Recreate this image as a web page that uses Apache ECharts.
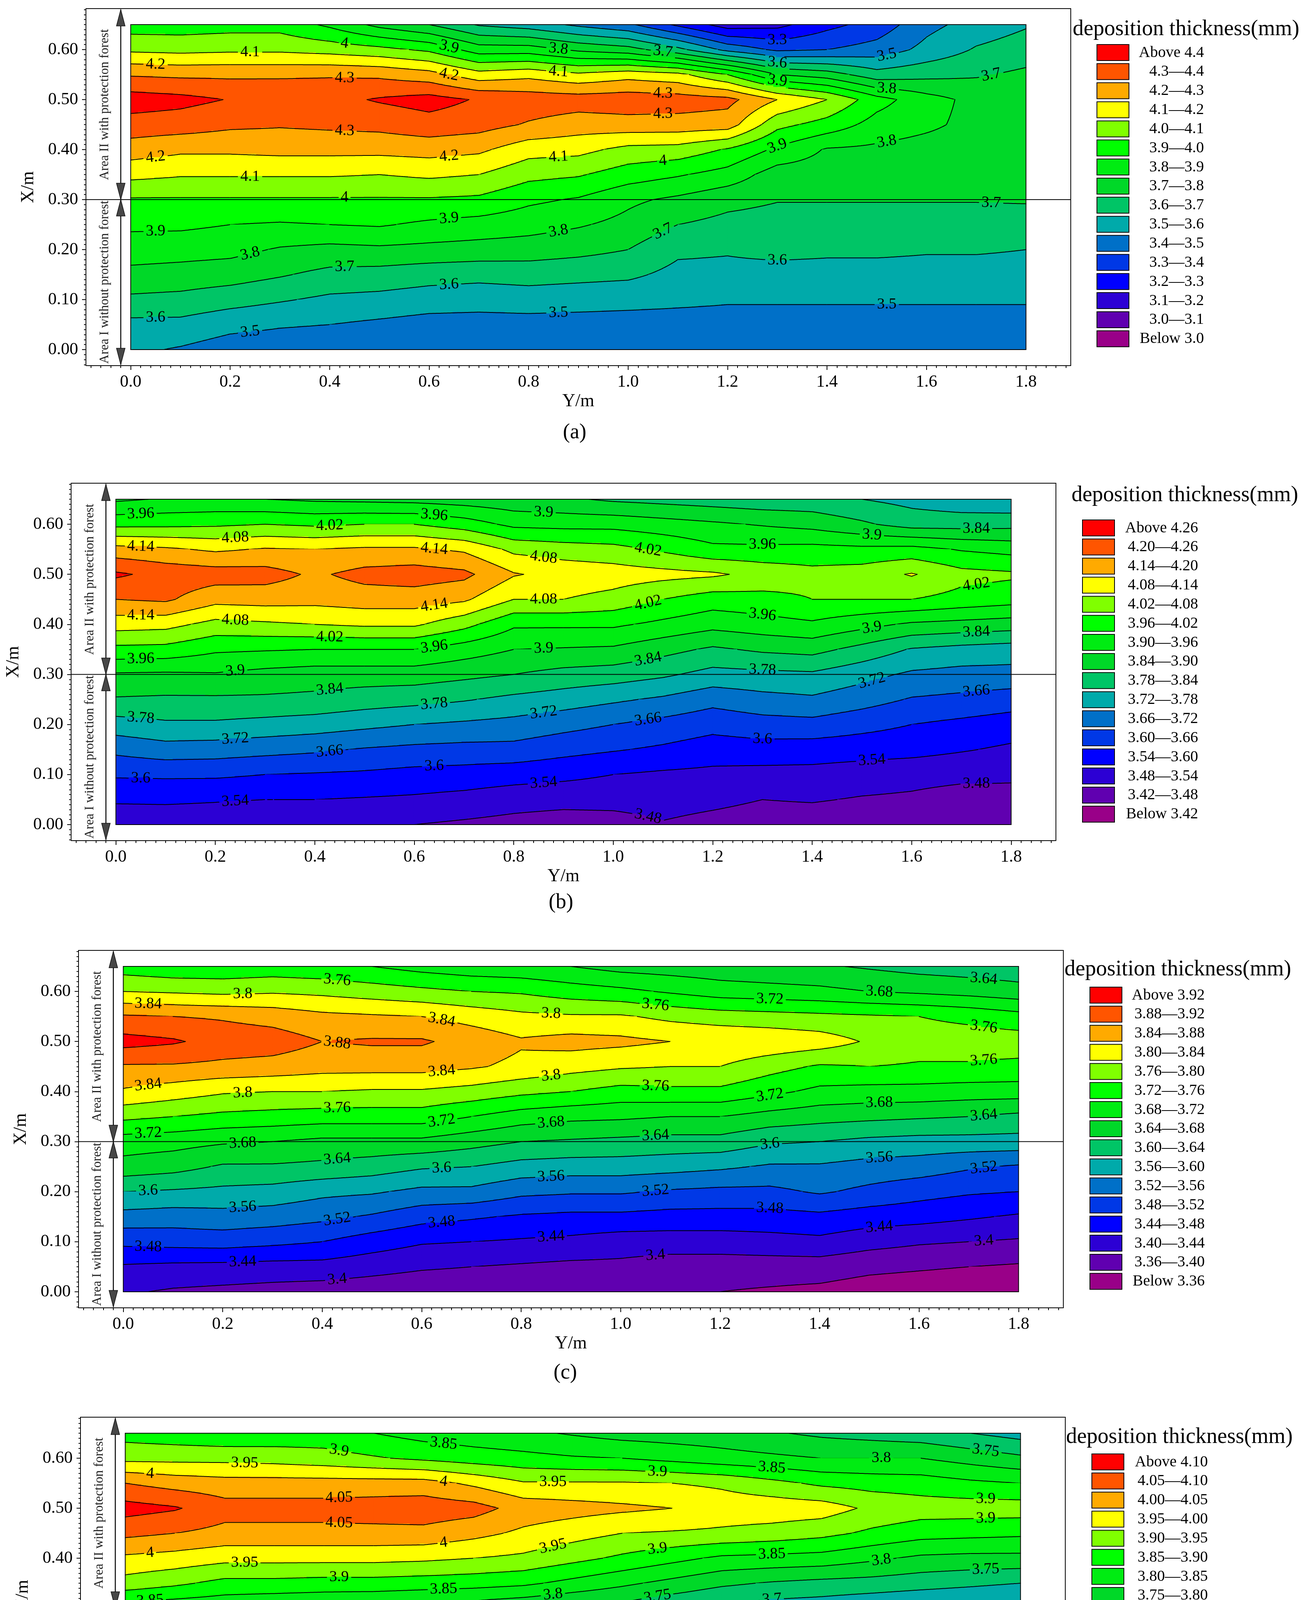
<!DOCTYPE html>
<html>
<head>
<meta charset="utf-8">
<title>deposition thickness</title>
<script src="https://cdn.jsdelivr.net/npm/echarts@6/dist/echarts.min.js"></script>
<style>
html,body{margin:0;padding:0;background:#ffffff;}
#chart{width:3356px;height:4756px;}
</style>
</head>
<body>
<div id="chart"></div>
<script>
// ---------------- data ----------------
// horizontal axis: Y/m (columns), vertical axis: X/m (rows, top row first)
const yCols = [0, 0.1, 0.2, 0.3, 0.4, 0.5, 0.6, 0.7, 0.8, 0.9, 1.0, 1.1, 1.2, 1.3, 1.4, 1.5, 1.6, 1.7, 1.8];
const xRows = [0.65, 0.60, 0.55, 0.50, 0.45, 0.40, 0.35, 0.30, 0.25, 0.20, 0.15, 0.10, 0.05, 0.00];

const thicknessA = [
  [3.95, 3.95, 3.96, 3.96, 3.88, 3.77, 3.70, 3.59, 3.55, 3.48, 3.42, 3.28, 3.15, 3.17, 3.27, 3.34, 3.47, 3.54, 3.59],
  [4.08, 4.07, 4.08, 4.08, 4.06, 4.03, 3.98, 3.85, 3.85, 3.78, 3.74, 3.63, 3.47, 3.38, 3.40, 3.44, 3.53, 3.61, 3.65],
  [4.29, 4.28, 4.28, 4.28, 4.29, 4.28, 4.24, 4.14, 4.17, 4.12, 4.16, 4.13, 4.00, 3.80, 3.75, 3.64, 3.67, 3.69, 3.72],
  [4.45, 4.43, 4.395, 4.40, 4.37, 4.41, 4.44, 4.39, 4.36, 4.35, 4.36, 4.35, 4.33, 4.20, 4.10, 3.94, 3.84, 3.77, 3.74],
  [4.36, 4.35, 4.32, 4.31, 4.32, 4.33, 4.36, 4.34, 4.29, 4.25, 4.26, 4.26, 4.25, 4.03, 3.96, 3.86, 3.82, 3.77, 3.75],
  [4.25, 4.22, 4.22, 4.23, 4.23, 4.23, 4.24, 4.22, 4.14, 4.13, 4.07, 4.06, 3.99, 3.88, 3.79, 3.78, 3.76, 3.75, 3.74],
  [4.13, 4.11, 4.11, 4.11, 4.11, 4.10, 4.12, 4.10, 4.03, 4.01, 3.95, 3.91, 3.86, 3.75, 3.75, 3.74, 3.73, 3.73, 3.72],
  [3.99, 3.99, 3.99, 3.99, 3.99, 3.99, 3.99, 3.98, 3.92, 3.89, 3.82, 3.78, 3.73, 3.705, 3.705, 3.705, 3.705, 3.705, 3.71],
  [3.92, 3.92, 3.90, 3.89, 3.90, 3.91, 3.88, 3.86, 3.84, 3.81, 3.77, 3.70, 3.67, 3.66, 3.66, 3.66, 3.66, 3.66, 3.65],
  [3.85, 3.84, 3.83, 3.79, 3.77, 3.78, 3.77, 3.76, 3.75, 3.73, 3.70, 3.62, 3.61, 3.63, 3.62, 3.62, 3.61, 3.61, 3.60],
  [3.77, 3.76, 3.745, 3.71, 3.67, 3.66, 3.64, 3.63, 3.64, 3.63, 3.62, 3.57, 3.57, 3.56, 3.56, 3.56, 3.56, 3.56, 3.56],
  [3.68, 3.67, 3.64, 3.61, 3.58, 3.57, 3.55, 3.54, 3.55, 3.54, 3.53, 3.52, 3.51, 3.51, 3.51, 3.51, 3.51, 3.51, 3.51],
  [3.57, 3.57, 3.53, 3.51, 3.50, 3.48, 3.46, 3.46, 3.46, 3.46, 3.46, 3.46, 3.46, 3.46, 3.46, 3.46, 3.46, 3.46, 3.46],
  [3.52, 3.49, 3.45, 3.44, 3.43, 3.43, 3.42, 3.42, 3.42, 3.42, 3.43, 3.43, 3.43, 3.43, 3.44, 3.43, 3.43, 3.43, 3.43]
];
const thicknessB = [
  [3.89, 3.905, 3.91, 3.90, 3.89, 3.885, 3.88, 3.87, 3.86, 3.85, 3.83, 3.82, 3.81, 3.80, 3.80, 3.78, 3.76, 3.74, 3.73],
  [4.003, 4.005, 4.01, 4.02, 4.01, 4.02, 4.02, 3.99, 3.945, 3.94, 3.94, 3.925, 3.91, 3.895, 3.88, 3.85, 3.815, 3.815, 3.82],
  [4.163, 4.15, 4.13, 4.145, 4.14, 4.15, 4.15, 4.13, 4.065, 4.05, 4.04, 4.01, 3.975, 3.975, 3.98, 3.975, 3.98, 3.955, 3.94],
  [4.27, 4.24, 4.23, 4.225, 4.19, 4.22, 4.23, 4.215, 4.145, 4.12, 4.11, 4.10, 4.09, 4.06, 4.04, 4.05, 4.085, 4.04, 4.03],
  [4.20, 4.21, 4.16, 4.165, 4.16, 4.17, 4.17, 4.15, 4.08, 4.08, 4.06, 4.02, 3.99, 4.00, 4.02, 4.02, 4.02, 4.00, 3.985],
  [4.106, 4.10, 4.06, 4.07, 4.08, 4.09, 4.09, 4.04, 3.97, 3.97, 3.97, 3.945, 3.92, 3.935, 3.95, 3.92, 3.89, 3.88, 3.87],
  [4.004, 4.0, 3.97, 3.965, 3.96, 3.96, 3.96, 3.93, 3.90, 3.895, 3.89, 3.86, 3.83, 3.85, 3.86, 3.82, 3.775, 3.76, 3.75],
  [3.893, 3.89, 3.895, 3.88, 3.87, 3.87, 3.87, 3.855, 3.84, 3.82, 3.81, 3.79, 3.76, 3.765, 3.77, 3.74, 3.71, 3.70, 3.70],
  [3.834, 3.83, 3.83, 3.83, 3.825, 3.81, 3.80, 3.785, 3.765, 3.75, 3.73, 3.71, 3.68, 3.70, 3.71, 3.685, 3.655, 3.645, 3.63],
  [3.754, 3.77, 3.77, 3.76, 3.75, 3.735, 3.72, 3.71, 3.70, 3.68, 3.66, 3.64, 3.62, 3.635, 3.64, 3.62, 3.60, 3.585, 3.57],
  [3.675, 3.695, 3.69, 3.68, 3.67, 3.655, 3.645, 3.64, 3.64, 3.62, 3.605, 3.59, 3.57, 3.575, 3.57, 3.565, 3.56, 3.545, 3.53],
  [3.608, 3.61, 3.61, 3.60, 3.595, 3.59, 3.58, 3.575, 3.565, 3.555, 3.54, 3.53, 3.525, 3.52, 3.52, 3.51, 3.50, 3.495, 3.49],
  [3.548, 3.55, 3.545, 3.54, 3.54, 3.535, 3.53, 3.52, 3.505, 3.50, 3.50, 3.505, 3.495, 3.48, 3.485, 3.475, 3.47, 3.455, 3.46],
  [3.50, 3.50, 3.50, 3.49, 3.49, 3.485, 3.48, 3.47, 3.46, 3.45, 3.455, 3.475, 3.46, 3.45, 3.445, 3.44, 3.44, 3.435, 3.43]
];
const thicknessC = [
  [3.74, 3.73, 3.73, 3.735, 3.73, 3.72, 3.705, 3.695, 3.69, 3.68, 3.665, 3.66, 3.655, 3.65, 3.645, 3.635, 3.625, 3.62, 3.615],
  [3.80, 3.795, 3.79, 3.795, 3.79, 3.78, 3.77, 3.76, 3.755, 3.74, 3.73, 3.715, 3.70, 3.695, 3.69, 3.68, 3.673, 3.665, 3.655],
  [3.885, 3.88, 3.875, 3.865, 3.85, 3.845, 3.84, 3.825, 3.81, 3.805, 3.805, 3.79, 3.78, 3.775, 3.77, 3.765, 3.76, 3.75, 3.735],
  [3.935, 3.925, 3.905, 3.90, 3.88, 3.885, 3.885, 3.865, 3.845, 3.855, 3.85, 3.84, 3.835, 3.83, 3.82, 3.795, 3.78, 3.78, 3.78],
  [3.875, 3.875, 3.87, 3.865, 3.855, 3.855, 3.855, 3.845, 3.83, 3.815, 3.805, 3.80, 3.80, 3.775, 3.755, 3.76, 3.755, 3.755, 3.75],
  [3.835, 3.82, 3.805, 3.80, 3.80, 3.795, 3.795, 3.785, 3.77, 3.76, 3.745, 3.75, 3.75, 3.73, 3.71, 3.705, 3.705, 3.70, 3.70],
  [3.77, 3.76, 3.75, 3.745, 3.74, 3.74, 3.74, 3.72, 3.70, 3.69, 3.687, 3.68, 3.68, 3.665, 3.655, 3.65, 3.645, 3.64, 3.63],
  [3.70, 3.695, 3.685, 3.68, 3.67, 3.67, 3.67, 3.655, 3.64, 3.635, 3.63, 3.625, 3.625, 3.605, 3.60, 3.59, 3.585, 3.585, 3.585],
  [3.665, 3.655, 3.635, 3.635, 3.63, 3.62, 3.605, 3.60, 3.585, 3.58, 3.58, 3.575, 3.567, 3.555, 3.555, 3.545, 3.54, 3.525, 3.515],
  [3.60, 3.595, 3.59, 3.585, 3.57, 3.565, 3.55, 3.55, 3.53, 3.525, 3.525, 3.515, 3.51, 3.51, 3.525, 3.51, 3.495, 3.485, 3.48],
  [3.545, 3.54, 3.545, 3.54, 3.53, 3.515, 3.495, 3.485, 3.475, 3.47, 3.47, 3.465, 3.465, 3.465, 3.47, 3.46, 3.455, 3.445, 3.435],
  [3.49, 3.495, 3.498, 3.49, 3.48, 3.46, 3.444, 3.44, 3.435, 3.43, 3.42, 3.42, 3.42, 3.425, 3.43, 3.415, 3.405, 3.40, 3.395],
  [3.435, 3.43, 3.428, 3.425, 3.425, 3.415, 3.405, 3.40, 3.395, 3.39, 3.39, 3.38, 3.38, 3.38, 3.38, 3.37, 3.365, 3.36, 3.355],
  [3.405, 3.395, 3.39, 3.385, 3.38, 3.375, 3.37, 3.37, 3.37, 3.365, 3.37, 3.365, 3.36, 3.355, 3.35, 3.34, 3.335, 3.33, 3.33]
];
const thicknessD = [
  [3.88, 3.87, 3.86, 3.865, 3.87, 3.85, 3.83, 3.82, 3.81, 3.795, 3.78, 3.775, 3.77, 3.755, 3.74, 3.73, 3.72, 3.70, 3.68],
  [3.935, 3.935, 3.935, 3.93, 3.92, 3.905, 3.89, 3.875, 3.865, 3.855, 3.85, 3.835, 3.82, 3.81, 3.80, 3.80, 3.80, 3.78, 3.76],
  [4.05, 4.03, 4.02, 4.02, 4.02, 4.02, 4.02, 3.99, 3.955, 3.955, 3.955, 3.95, 3.94, 3.915, 3.89, 3.88, 3.875, 3.86, 3.85],
  [4.12, 4.105, 4.07, 4.07, 4.07, 4.075, 4.08, 4.07, 4.03, 4.02, 4.01, 4.0, 3.98, 3.98, 3.975, 3.94, 3.925, 3.925, 3.925],
  [4.063, 4.05, 4.035, 4.035, 4.035, 4.035, 4.035, 4.015, 3.99, 3.97, 3.95, 3.945, 3.94, 3.93, 3.915, 3.89, 3.87, 3.865, 3.86],
  [3.99, 3.98, 3.965, 3.965, 3.965, 3.965, 3.96, 3.95, 3.94, 3.915, 3.89, 3.865, 3.84, 3.835, 3.83, 3.81, 3.79, 3.785, 3.785],
  [3.93, 3.91, 3.885, 3.885, 3.88, 3.88, 3.875, 3.87, 3.86, 3.835, 3.81, 3.785, 3.76, 3.745, 3.735, 3.73, 3.72, 3.71, 3.70],
  [3.825, 3.815, 3.81, 3.80, 3.795, 3.79, 3.78, 3.77, 3.755, 3.74, 3.73, 3.705, 3.685, 3.675, 3.67, 3.655, 3.645, 3.64, 3.63],
  [3.755, 3.745, 3.75, 3.74, 3.73, 3.72, 3.70, 3.695, 3.69, 3.685, 3.675, 3.65, 3.625, 3.62, 3.615, 3.605, 3.60, 3.585, 3.57],
  [3.68, 3.685, 3.695, 3.67, 3.64, 3.64, 3.635, 3.635, 3.635, 3.62, 3.603, 3.585, 3.573, 3.56, 3.555, 3.55, 3.545, 3.535, 3.52],
  [3.597, 3.60, 3.615, 3.60, 3.58, 3.58, 3.575, 3.57, 3.56, 3.55, 3.54, 3.53, 3.52, 3.52, 3.52, 3.51, 3.50, 3.495, 3.485],
  [3.53, 3.535, 3.535, 3.535, 3.53, 3.515, 3.505, 3.50, 3.495, 3.49, 3.48, 3.48, 3.475, 3.47, 3.47, 3.46, 3.45, 3.44, 3.435],
  [3.485, 3.48, 3.48, 3.48, 3.475, 3.47, 3.465, 3.46, 3.45, 3.44, 3.43, 3.43, 3.43, 3.425, 3.42, 3.41, 3.405, 3.40, 3.395],
  [3.46, 3.455, 3.447, 3.44, 3.435, 3.43, 3.425, 3.42, 3.415, 3.41, 3.41, 3.405, 3.405, 3.405, 3.39, 3.38, 3.37, 3.37, 3.375]
];

// contour levels (ascending)
const levelsA = [3.0, 3.1, 3.2, 3.3, 3.4, 3.5, 3.6, 3.7, 3.8, 3.9, 4.0, 4.1, 4.2, 4.3, 4.4];
const levelsB = [3.42, 3.48, 3.54, 3.60, 3.66, 3.72, 3.78, 3.84, 3.90, 3.96, 4.02, 4.08, 4.14, 4.20, 4.26];
const levelsC = [3.36, 3.40, 3.44, 3.48, 3.52, 3.56, 3.60, 3.64, 3.68, 3.72, 3.76, 3.80, 3.84, 3.88, 3.92];
const levelsD = [3.40, 3.45, 3.50, 3.55, 3.60, 3.65, 3.70, 3.75, 3.80, 3.85, 3.90, 3.95, 4.00, 4.05, 4.10];

// legend labels (top to bottom)
const legendA = ['Above 4.4', '4.3\u20144.4', '4.2\u20144.3', '4.1\u20144.2', '4.0\u20144.1', '3.9\u20144.0', '3.8\u20143.9', '3.7\u20143.8', '3.6\u20143.7', '3.5\u20143.6', '3.4\u20143.5', '3.3\u20143.4', '3.2\u20143.3', '3.1\u20143.2', '3.0\u20143.1', 'Below 3.0'];
const legendB = ['Above 4.26', '4.20\u20144.26', '4.14\u20144.20', '4.08\u20144.14', '4.02\u20144.08', '3.96\u20144.02', '3.90\u20143.96', '3.84\u20143.90', '3.78\u20143.84', '3.72\u20143.78', '3.66\u20143.72', '3.60\u20143.66', '3.54\u20143.60', '3.48\u20143.54', '3.42\u20143.48', 'Below 3.42'];
const legendC = ['Above 3.92', '3.88\u20143.92', '3.84\u20143.88', '3.80\u20143.84', '3.76\u20143.80', '3.72\u20143.76', '3.68\u20143.72', '3.64\u20143.68', '3.60\u20143.64', '3.56\u20143.60', '3.52\u20143.56', '3.48\u20143.52', '3.44\u20143.48', '3.40\u20143.44', '3.36\u20143.40', 'Below 3.36'];
const legendD = ['Above 4.10', '4.05\u20144.10', '4.00\u20144.05', '3.95\u20144.00', '3.90\u20143.95', '3.85\u20143.90', '3.80\u20143.85', '3.75\u20143.80', '3.70\u20143.75', '3.65\u20143.70', '3.60\u20143.65', '3.55\u20143.60', '3.50\u20143.55', '3.45\u20143.50', '3.40\u20143.45', 'Below 3.40'];

const xTickLabels = [0, 0.2, 0.4, 0.6, 0.8, 1.0, 1.2, 1.4, 1.6, 1.8];
const yTickLabels = [0, 0.1, 0.2, 0.3, 0.4, 0.5, 0.6];
const captions = ['(a)', '(b)', '(c)', '(d)'];
const legendTitle = 'deposition thickness(mm)';
const areaNames = ['Area II with protection forest', 'Area I without protection forest'];

// band colours, lowest band first
const bandColors = ['#990088', '#6000B0', '#2C00D4', '#0000FF', '#0038E6', '#0070C8', '#00AAAA', '#00C566',
                    '#00D828', '#00EC12', '#00FF00', '#80FF00', '#FFFF00', '#FFAA00', '#FF5500', '#FF0000'];

// ---------------- layout / style ----------------
const FONT = '"Liberation Serif", "Times New Roman", serif';
const axisYMin = -0.09, axisYMax = 1.89, axisXMin = -0.032, axisXMax = 0.682;
const areaBoundary = 0.30;
const arrowPos = -0.02, areaTextPos = -0.052;
const xMinorTicks = []; for (let k = -4; k <= 94; k++) xMinorTicks.push(+(k * 0.02).toFixed(2));
const yMinorTicks = []; for (let k = -3; k <= 68; k++) yMinorTicks.push(+(k * 0.01).toFixed(2));
const labelCols = [0.05, 0.24, 0.43, 0.64, 0.86, 1.07, 1.3, 1.52, 1.73];

const layouts = [
  {left: 220, top: 22,   width: 2521, height: 914, boxX: 2808, boxTop: 114,  titleX: 2746, titleY: 75,   labelRight: 3082, capX: 1471, capY: 1108},
  {left: 182, top: 1237, width: 2521, height: 915, boxX: 2771, boxTop: 1331, titleX: 2743, titleY: 1268, labelRight: 3067, capX: 1436, capY: 2311},
  {left: 201, top: 2433, width: 2521, height: 915, boxX: 2790, boxTop: 2527, titleX: 2725, titleY: 2482, labelRight: 3084, capX: 1447, capY: 3515},
  {left: 206, top: 3628, width: 2521, height: 914, boxX: 2795, boxTop: 3722, titleX: 2729, titleY: 3679, labelRight: 3092, capX: 1469, capY: 4702}
];

const grids = [thicknessA, thicknessB, thicknessC, thicknessD];
const levelSets = [levelsA, levelsB, levelsC, levelsD];
const legendSets = [legendA, legendB, legendC, legendD];

function makeField(g) {
  const nC = yCols.length, nR = xRows.length;
  const ys = yCols[1] - yCols[0], xs = xRows[0] - xRows[1];
  return function (Y, X) {
    let fj = (Y - yCols[0]) / ys, fi = (xRows[0] - X) / xs;
    fj = Math.max(0, Math.min(nC - 1, fj));
    fi = Math.max(0, Math.min(nR - 1, fi));
    const j = Math.min(Math.floor(fj), nC - 2), i = Math.min(Math.floor(fi), nR - 2);
    const s = fj - j, t = fi - i;
    return g[i][j] * (1 - s) * (1 - t) + g[i][j + 1] * s * (1 - t) + g[i + 1][j] * (1 - s) * t + g[i + 1][j + 1] * s * t;
  };
}
const fmtLevel = v => String(parseFloat(v.toFixed(2)));
function textWidth(s, size) {
  let w = 0;
  for (const ch of s) w += (ch === '.') ? 0.25 : 0.5;
  return w * size;
}

// automatic contour label placement along a few sample columns
function makeLabels(P) {
  const out = [];
  const pxY = 1274, pxX = 1280, step = 0.002;
  P.levels.forEach((lv, k) => {
    labelCols.forEach((cy, ci) => {
      if ((ci + k) % 3 !== 0) return;
      let prev = P.f(cy, 0.014) - lv;
      for (let x = 0.014 + step; x <= 0.636; x += step) {
        const cur = P.f(cy, x) - lv;
        if ((prev < 0) !== (cur < 0)) {
          const xc = x - step * cur / (cur - prev);
          const clash = out.some(o => Math.abs(o.y - cy) * pxY < 125 && Math.abs(o.x - xc) * pxX < 46);
          if (!clash) out.push({y: cy, x: xc, level: lv, text: fmtLevel(lv)});
        }
        prev = cur;
      }
    });
  });
  return out;
}

function labelGeometry(P, api) {
  if (P.geo) return P.geo;
  const o = api.coord([0, 0]), ey = api.coord([1, 0]), ex = api.coord([0, 1]);
  const sx = ey[0] - o[0], sy = ex[1] - o[1];
  P.geo = P.labels.map(l => {
    const p = api.coord([l.y, l.x]);
    const h = 0.004;
    const dvdY = (P.f(l.y + h, l.x) - P.f(l.y - h, l.x)) / (2 * h);
    const dvdX = (P.f(l.y, l.x + h) - P.f(l.y, l.x - h)) / (2 * h);
    const gx = dvdY / sx, gy = dvdX / sy;
    const tx = -gy, ty = gx;
    let ang = Math.atan2(-ty, tx);
    if (ang > Math.PI / 2) ang -= Math.PI;
    if (ang <= -Math.PI / 2) ang += Math.PI;
    ang = Math.max(-1.3, Math.min(1.3, ang));
    return {x: p[0], y: p[1], ang: ang, w: textWidth(l.text, 40) + 14, h: 34, text: l.text};
  });
  return P.geo;
}

function cellRenderer(P) {
  const NU = 40, NV = 16, L = P.levels, nL = L.length;
  return function (params, api) {
    const i = api.value(4), j = api.value(5);
    const g = P.grid;
    const a00 = g[i][j], a10 = g[i][j + 1], a01 = g[i + 1][j], a11 = g[i + 1][j + 1];
    const p0 = api.coord([api.value(0), api.value(1)]);
    const p1 = api.coord([api.value(2), api.value(3)]);
    const x0 = p0[0], y0 = p0[1];
    const dx = (p1[0] - x0) / NU, dy = (p1[1] - y0) / NV;
    const W = NU + 1;
    const nd = new Float64Array(W * (NV + 1));
    for (let b = 0; b <= NV; b++) {
      const t = b / NV;
      for (let a = 0; a <= NU; a++) {
        const s = a / NU;
        nd[b * W + a] = a00 * (1 - s) * (1 - t) + a10 * s * (1 - t) + a01 * (1 - s) * t + a11 * s * t;
      }
    }
    const ch = [];
    const band = v => { let n = 0; while (n < nL && v >= L[n]) n++; return n; };
    for (let b = 0; b < NV; b++) {
      let rs = 0, rb = -1;
      for (let a = 0; a <= NU; a++) {
        let cb = -1;
        if (a < NU) cb = band((nd[b * W + a] + nd[b * W + a + 1] + nd[(b + 1) * W + a] + nd[(b + 1) * W + a + 1]) / 4);
        if (cb !== rb) {
          if (rb >= 0) ch.push({type: 'rect', shape: {x: x0 + rs * dx - 0.6, y: y0 + b * dy - 0.6, width: (a - rs) * dx + 1.2, height: dy + 1.2}, style: {fill: bandColors[rb]}});
          rs = a; rb = cb;
        }
      }
    }
    const geo = labelGeometry(P, api);
    const bx0 = Math.min(x0, p1[0]) - 90, bx1 = Math.max(x0, p1[0]) + 90;
    const by0 = Math.min(y0, p1[1]) - 90, by1 = Math.max(y0, p1[1]) + 90;
    const near = geo.filter(q => q.x > bx0 && q.x < bx1 && q.y > by0 && q.y < by1);
    const hidden = (mx, my) => near.some(q => {
      const ddx = mx - q.x, ddy = my - q.y;
      const c = Math.cos(q.ang), s = Math.sin(q.ang);
      const u = ddx * c - ddy * s, v = ddx * s + ddy * c;
      return Math.abs(u) < q.w / 2 && Math.abs(v) < q.h / 2;
    });
    const paths = new Array(nL).fill('');
    for (let b = 0; b < NV; b++) {
      for (let a = 0; a < NU; a++) {
        const tl = nd[b * W + a], tr = nd[b * W + a + 1], bl = nd[(b + 1) * W + a], br = nd[(b + 1) * W + a + 1];
        const mn = Math.min(tl, tr, bl, br), mx = Math.max(tl, tr, bl, br);
        const xa = x0 + a * dx, yb = y0 + b * dy;
        for (let k = 0; k < nL; k++) {
          const lv = L[k];
          if (!(mx >= lv && mn < lv)) continue;
          const c = (tl >= lv ? 8 : 0) | (tr >= lv ? 4 : 0) | (br >= lv ? 2 : 0) | (bl >= lv ? 1 : 0);
          const Tp = () => [xa + dx * (lv - tl) / (tr - tl), yb];
          const Rp = () => [xa + dx, yb + dy * (lv - tr) / (br - tr)];
          const Bp = () => [xa + dx * (lv - bl) / (br - bl), yb + dy];
          const Lp = () => [xa, yb + dy * (lv - tl) / (bl - tl)];
          let segs = null;
          switch (c) {
            case 1: case 14: segs = [[Lp(), Bp()]]; break;
            case 2: case 13: segs = [[Bp(), Rp()]]; break;
            case 3: case 12: segs = [[Lp(), Rp()]]; break;
            case 4: case 11: segs = [[Tp(), Rp()]]; break;
            case 6: case 9: segs = [[Tp(), Bp()]]; break;
            case 7: case 8: segs = [[Tp(), Lp()]]; break;
            case 5: { const ctr = (tl + tr + bl + br) / 4; segs = ctr >= lv ? [[Tp(), Lp()], [Bp(), Rp()]] : [[Tp(), Rp()], [Lp(), Bp()]]; break; }
            case 10: { const ctr = (tl + tr + bl + br) / 4; segs = ctr >= lv ? [[Tp(), Rp()], [Lp(), Bp()]] : [[Tp(), Lp()], [Bp(), Rp()]]; break; }
          }
          if (!segs) continue;
          for (const sg of segs) {
            const m0 = (sg[0][0] + sg[1][0]) / 2, m1 = (sg[0][1] + sg[1][1]) / 2;
            if (near.length && hidden(m0, m1)) continue;
            paths[k] += 'M' + sg[0][0].toFixed(1) + ' ' + sg[0][1].toFixed(1) + 'L' + sg[1][0].toFixed(1) + ' ' + sg[1][1].toFixed(1);
          }
        }
      }
    }
    for (let k = 0; k < nL; k++) {
      if (paths[k]) ch.push({type: 'path', shape: {pathData: paths[k]}, style: {fill: 'none', stroke: '#000', lineWidth: 2, lineCap: 'round', lineJoin: 'round'}});
    }
    return {type: 'group', children: ch};
  };
}

function labelRenderer(P) {
  return function (params, api) {
    const q = labelGeometry(P, api)[params.dataIndex];
    return {type: 'text', x: q.x, y: q.y, rotation: q.ang, z2: 50,
      style: {text: q.text, font: '40px ' + FONT, fill: '#000', align: 'center', verticalAlign: 'middle', textAlign: 'center', textVerticalAlign: 'middle'}};
  };
}

function pushArrow(ch, p, q) {
  const len = 42, hw = 11;
  ch.push({type: 'line', shape: {x1: p[0], y1: p[1], x2: q[0], y2: q[1]}, style: {stroke: '#000', lineWidth: 2.5}});
  [[p, q], [q, p]].forEach(([tip, from]) => {
    const ddx = tip[0] - from[0], ddy = tip[1] - from[1];
    const d = Math.hypot(ddx, ddy) || 1;
    const ux = ddx / d, uy = ddy / d;
    const bx = tip[0] - ux * len, by = tip[1] - uy * len;
    ch.push({type: 'polygon', shape: {points: [[tip[0], tip[1]], [bx - uy * hw, by + ux * hw], [bx + uy * hw, by - ux * hw]]},
      style: {fill: '#474747', stroke: '#111', lineWidth: 1.5}});
  });
}

function annotRenderer(P) {
  return function (params, api) {
    const c = (y, x) => api.coord([y, x]);
    const ch = [];
    const dTL = c(yCols[0], xRows[0]), dBR = c(yCols[yCols.length - 1], xRows[xRows.length - 1]);
    ch.push({type: 'rect', shape: {x: dTL[0], y: dTL[1], width: dBR[0] - dTL[0], height: dBR[1] - dTL[1]}, style: {fill: 'none', stroke: '#000', lineWidth: 2}});
    const b0 = c(axisYMin, areaBoundary), b1 = c(axisYMax, areaBoundary);
    ch.push({type: 'line', shape: {x1: b0[0], y1: b0[1], x2: b1[0], y2: b1[1]}, style: {stroke: '#000', lineWidth: 2}});
    const topTip = axisXMax - 0.002, botTip = axisXMin + 0.002;
    pushArrow(ch, c(arrowPos, areaBoundary), c(arrowPos, topTip));
    pushArrow(ch, c(arrowPos, areaBoundary), c(arrowPos, botTip));
    const t1 = c(areaTextPos, (areaBoundary + topTip) / 2), t2 = c(areaTextPos, (areaBoundary + botTip) / 2);
    [[t1, areaNames[0]], [t2, areaNames[1]]].forEach(([pt, txt]) => {
      ch.push({type: 'text', x: pt[0], y: pt[1], rotation: Math.PI / 2,
        style: {text: txt, font: '33px ' + FONT, fill: '#222', align: 'center', verticalAlign: 'middle', textAlign: 'center', textVerticalAlign: 'middle'}});
    });
    return {type: 'group', children: ch};
  };
}

// ---------------- option ----------------
const option = {
  animation: false,
  backgroundColor: '#ffffff',
  textStyle: {fontFamily: FONT},
  grid: [], xAxis: [], yAxis: [], series: [], graphic: []
};

const panels = grids.map((g, k) => {
  const P = {grid: g, levels: levelSets[k], legend: legendSets[k], layout: layouts[k], f: makeField(g)};
  P.labels = makeLabels(P);
  return P;
});

panels.forEach((P, k) => {
  const Lo = P.layout;
  option.grid.push({left: Lo.left, top: Lo.top, width: Lo.width, height: Lo.height, show: true, borderColor: '#000', borderWidth: 2, backgroundColor: 'transparent'});
  const tickStyle = {color: '#000', width: 2};
  option.xAxis.push({
    gridIndex: k, type: 'value', min: axisYMin, max: axisYMax, position: 'bottom',
    name: 'Y/m', nameLocation: 'middle', nameGap: 69, nameTextStyle: {fontFamily: FONT, fontSize: 46, color: '#000'},
    axisLine: {show: true, onZero: false, lineStyle: {color: '#000', width: 2}},
    axisTick: {show: true, customValues: xTickLabels, length: 11, lineStyle: tickStyle},
    axisLabel: {show: true, customValues: xTickLabels, formatter: v => (+v).toFixed(1), fontFamily: FONT, fontSize: 44, color: '#000', margin: 20},
    splitLine: {show: false}
  });
  option.xAxis.push({
    gridIndex: k, type: 'value', min: axisYMin, max: axisYMax, position: 'bottom', offset: 0,
    axisLine: {show: false, onZero: false},
    axisTick: {show: true, customValues: xMinorTicks, length: 6, lineStyle: tickStyle},
    axisLabel: {show: false}, splitLine: {show: false}
  });
  option.yAxis.push({
    gridIndex: k, type: 'value', min: axisXMin, max: axisXMax, position: 'left',
    name: 'X/m', nameLocation: 'middle', nameGap: 124, nameTextStyle: {fontFamily: FONT, fontSize: 46, color: '#000'},
    axisLine: {show: true, onZero: false, lineStyle: {color: '#000', width: 2}},
    axisTick: {show: true, customValues: yTickLabels, length: 10, lineStyle: tickStyle},
    axisLabel: {show: true, customValues: yTickLabels, formatter: v => (+v).toFixed(2), fontFamily: FONT, fontSize: 44, color: '#000', margin: 20},
    splitLine: {show: false}
  });
  option.yAxis.push({
    gridIndex: k, type: 'value', min: axisXMin, max: axisXMax, position: 'left', offset: 0,
    axisLine: {show: false, onZero: false},
    axisTick: {show: true, customValues: yMinorTicks, length: 5, lineStyle: tickStyle},
    axisLabel: {show: false}, splitLine: {show: false}
  });

  const cells = [];
  for (let i = 0; i < xRows.length - 1; i++)
    for (let j = 0; j < yCols.length - 1; j++)
      cells.push([yCols[j], xRows[i], yCols[j + 1], xRows[i + 1], i, j]);

  option.series.push({
    type: 'custom', name: 'thickness ' + captions[k], xAxisIndex: 2 * k, yAxisIndex: 2 * k,
    coordinateSystem: 'cartesian2d', silent: true, progressive: 0, z: 2,
    encode: {x: [0, 2], y: [1, 3]}, renderItem: cellRenderer(P), data: cells
  });
  option.series.push({
    type: 'custom', name: 'frame ' + captions[k], xAxisIndex: 2 * k, yAxisIndex: 2 * k,
    coordinateSystem: 'cartesian2d', silent: true, z: 4, clip: false,
    encode: {x: 0, y: 1}, renderItem: annotRenderer(P), data: [[arrowPos, areaBoundary]]
  });
  option.series.push({
    type: 'custom', name: 'labels ' + captions[k], xAxisIndex: 2 * k, yAxisIndex: 2 * k,
    coordinateSystem: 'cartesian2d', silent: true, z: 5,
    encode: {x: 0, y: 1}, renderItem: labelRenderer(P), data: P.labels.map(l => [l.y, l.x, l.level])
  });

  // legend
  option.graphic.push({type: 'text', x: Lo.titleX, y: Lo.titleY, silent: true,
    style: {text: legendTitle, font: '56px ' + FONT, fill: '#000', align: 'left', verticalAlign: 'middle', textAlign: 'left', textVerticalAlign: 'middle'}});
  P.legend.forEach((lab, n) => {
    const yy = Lo.boxTop + n * 48.85;
    option.graphic.push({type: 'rect', silent: true, shape: {x: Lo.boxX, y: yy, width: 82, height: 41},
      style: {fill: bandColors[bandColors.length - 1 - n], stroke: '#000', lineWidth: 2}});
    option.graphic.push({type: 'text', silent: true, x: Lo.labelRight, y: yy + 21,
      style: {text: lab, font: '40px ' + FONT, fill: '#000', align: 'right', verticalAlign: 'middle', textAlign: 'right', textVerticalAlign: 'middle'}});
  });
  option.graphic.push({type: 'text', silent: true, x: Lo.capX, y: Lo.capY,
    style: {text: captions[k], font: '54px ' + FONT, fill: '#000', align: 'center', verticalAlign: 'middle', textAlign: 'center', textVerticalAlign: 'middle'}});
});

const chart = echarts.init(document.getElementById('chart'), null, {renderer: 'canvas'});
chart.setOption(option);
</script>
</body>
</html>
